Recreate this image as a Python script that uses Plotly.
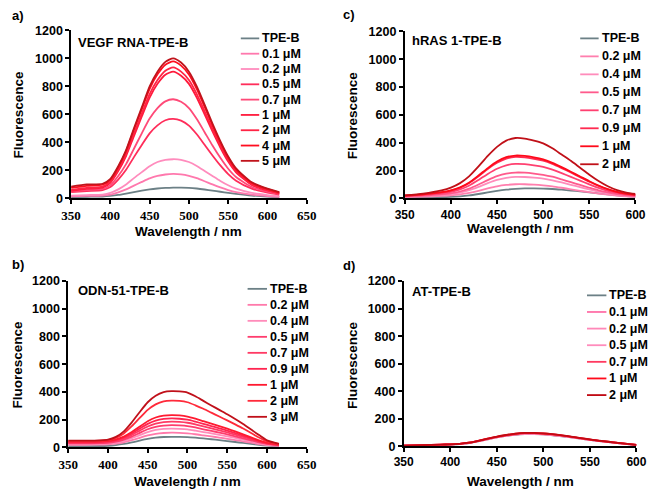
import plotly.graph_objects as go

W, H = 661, 498

# ---------------- DATA ----------------
# Panel a) VEGF RNA-TPE-B
WL_A = [350, 370, 390, 400, 410, 420, 430, 440, 450, 460, 470, 480, 490, 500, 510, 520, 530, 540, 550, 560, 580, 600, 615]
NAMES_A = ["TPE-B", "0.1 μM", "0.2 μM", "0.5 μM", "0.7 μM", "1 μM", "2 μM", "4 μM", "5 μM"]
A_TPEB = [10, 12, 14, 18, 25, 35, 46, 56, 65, 71, 75, 77, 78, 76, 71, 64, 56, 48, 40, 33, 21, 13, 9]
A_01 = [15, 18, 21, 28, 44, 65, 92, 118, 143, 161, 171, 175, 172, 162, 145, 123, 100, 79, 60, 45, 27, 17, 12]
A_02 = [20, 24, 28, 40, 65, 100, 145, 188, 230, 260, 275, 280, 276, 260, 232, 196, 160, 125, 94, 70, 40, 24, 16]
A_05 = [45, 53, 60, 82, 135, 205, 295, 382, 465, 522, 558, 568, 556, 520, 458, 383, 307, 236, 174, 127, 70, 42, 28]
A_07 = [50, 60, 68, 95, 160, 245, 355, 465, 570, 645, 693, 708, 690, 645, 567, 473, 378, 290, 212, 153, 82, 48, 32]
A_1 = [55, 68, 78, 112, 195, 303, 445, 585, 720, 818, 883, 905, 876, 818, 720, 600, 478, 364, 263, 187, 97, 57, 36]
A_2 = [62, 75, 85, 120, 205, 315, 462, 605, 745, 845, 912, 935, 905, 845, 745, 622, 495, 378, 274, 195, 102, 60, 38]
A_4 = [75, 90, 98, 132, 222, 337, 490, 637, 783, 886, 955, 978, 948, 884, 780, 653, 520, 398, 290, 207, 110, 66, 42]
A_5 = [85, 100, 105, 140, 230, 345, 500, 650, 800, 905, 975, 1000, 970, 905, 800, 670, 535, 410, 300, 215, 115, 70, 45]
COLORS_A = ["#6c8086", "#ff78ad", "#ff8cbd", "#ff2d5a", "#ff4a78", "#ff1a3c", "#ff2444", "#ff0d1f", "#c0141c"]

# Panel b) ODN-51-TPE-B
WL_B = [350, 370, 390, 400, 410, 420, 430, 440, 450, 460, 470, 480, 490, 500, 510, 520, 530, 540, 550, 560, 570, 580, 590, 600, 615]
NAMES_B = ["TPE-B", "0.2 μM", "0.4 μM", "0.5 μM", "0.7 μM", "0.9 μM", "1 μM", "2 μM", "3 μM"]
B_TPEB = [8, 8, 9, 11, 16, 24, 35, 48, 60, 69, 74, 75, 75, 73, 69, 64, 58, 52, 45, 38, 31, 24, 17, 12, 8]
B_02 = [18, 18, 19, 21, 26, 36, 51, 68, 85, 97, 103, 105, 104, 100, 94, 86, 78, 70, 61, 52, 43, 33, 23, 16, 10]
B_04 = [24, 24, 25, 27, 34, 46, 65, 88, 110, 125, 133, 135, 133, 129, 120, 110, 100, 89, 78, 67, 55, 42, 30, 20, 12]
B_05 = [28, 28, 30, 32, 40, 55, 77, 104, 130, 148, 157, 160, 158, 153, 143, 130, 118, 106, 93, 79, 65, 50, 35, 24, 14]
B_07 = [32, 32, 34, 37, 46, 63, 89, 120, 150, 171, 182, 185, 183, 177, 165, 150, 136, 122, 107, 91, 75, 57, 40, 27, 16]
B_09 = [36, 36, 38, 42, 52, 71, 100, 135, 169, 193, 205, 208, 206, 199, 185, 169, 153, 137, 120, 102, 84, 64, 45, 30, 18]
B_1 = [40, 40, 42, 46, 57, 78, 110, 150, 188, 215, 229, 232, 230, 222, 206, 188, 170, 152, 134, 114, 93, 71, 50, 33, 20]
B_2 = [45, 45, 47, 52, 68, 100, 152, 212, 270, 310, 332, 337, 335, 325, 303, 278, 250, 222, 194, 165, 135, 103, 70, 42, 24]
B_3 = [48, 48, 50, 55, 75, 115, 180, 255, 325, 372, 398, 405, 403, 395, 368, 335, 302, 270, 238, 204, 168, 128, 88, 50, 25]
COLORS_B = ["#6c8086", "#ff7aab", "#ff8cba", "#ff3d6e", "#ff3a64", "#ff2550", "#ff1a30", "#ff2a3a", "#c0101a"]

# Panel c) hRAS 1-TPE-B
WL_C = [350, 370, 390, 400, 410, 420, 430, 440, 450, 460, 470, 480, 490, 500, 510, 520, 530, 540, 550, 560, 570, 580, 590, 600]
NAMES_C = ["TPE-B", "0.2 μM", "0.4 μM", "0.5 μM", "0.7 μM", "0.9 μM", "1 μM", "2 μM"]
C_TPEB = [5, 7, 9, 11, 15, 22, 32, 43, 54, 63, 69, 72, 72, 71, 68, 63, 57, 51, 44, 37, 30, 23, 17, 12]
C_02 = [10, 14, 18, 22, 29, 40, 55, 72, 87, 97, 102, 102, 99, 94, 87, 77, 66, 55, 45, 35, 27, 20, 15, 12]
C_04 = [13, 18, 25, 31, 42, 59, 83, 110, 133, 148, 155, 154, 149, 142, 130, 115, 98, 81, 65, 49, 37, 27, 20, 15]
C_05 = [15, 21, 30, 37, 50, 71, 100, 132, 160, 178, 186, 185, 179, 170, 156, 137, 117, 97, 77, 58, 43, 31, 23, 18]
C_07 = [18, 26, 37, 48, 65, 93, 133, 176, 213, 238, 248, 246, 238, 226, 207, 182, 155, 128, 101, 76, 55, 40, 29, 22]
C_09 = [20, 29, 43, 56, 77, 111, 159, 211, 256, 286, 298, 295, 285, 271, 248, 218, 186, 153, 120, 90, 65, 46, 33, 25]
C_1 = [20, 30, 45, 58, 80, 115, 165, 218, 265, 296, 308, 305, 295, 280, 256, 225, 192, 158, 124, 93, 67, 47, 34, 26]
C_2 = [22, 35, 58, 78, 110, 160, 230, 305, 370, 415, 434, 430, 415, 395, 360, 315, 270, 220, 170, 125, 88, 60, 42, 32]
COLORS_C = ["#6c8086", "#ff7fae", "#ff8cbb", "#ff5a8c", "#ff4070", "#ff2a50", "#ff0a1a", "#c01018"]

# Panel d) AT-TPE-B
WL_D = [350, 370, 390, 400, 410, 420, 430, 440, 450, 460, 470, 480, 490, 500, 510, 520, 530, 540, 550, 560, 570, 580, 590, 600]
NAMES_D = ["TPE-B", "0.1 μM", "0.2 μM", "0.5 μM", "0.7 μM", "1 μM", "2 μM"]
D_TPEB = [4, 7, 11, 13, 16, 24, 36, 50, 64, 75, 84, 88, 88, 86, 80, 73, 64, 55, 46, 38, 30, 23, 16, 9]
D_01 = [5, 7, 11, 13, 17, 24, 37, 51, 65, 76, 85, 90, 90, 87, 81, 74, 65, 56, 46, 38, 31, 23, 16, 9]
D_02 = [5, 8, 11, 14, 17, 25, 38, 52, 66, 77, 86, 91, 91, 88, 82, 75, 66, 56, 47, 39, 31, 24, 16, 10]
D_05 = [5, 8, 12, 14, 17, 25, 38, 53, 67, 79, 88, 93, 93, 90, 84, 76, 67, 57, 48, 39, 32, 24, 16, 10]
D_07 = [5, 8, 12, 14, 18, 26, 39, 54, 68, 80, 89, 95, 95, 92, 86, 78, 68, 58, 49, 40, 32, 24, 17, 10]
D_1 = [5, 8, 12, 14, 18, 26, 40, 55, 69, 81, 91, 96, 96, 93, 87, 79, 69, 59, 49, 40, 33, 25, 17, 10]
D_2 = [5, 8, 12, 14, 18, 26, 40, 55, 70, 82, 92, 97, 97, 94, 88, 80, 70, 60, 50, 41, 33, 25, 17, 10]
COLORS_D = ["#6c8086", "#ff70a8", "#ff88b8", "#ff8cbc", "#ff3a60", "#ff0a1a", "#c00a14"]

Y_TICKS = [0, 200, 400, 600, 800, 1000, 1200]
X_TICKS_AB = [350, 400, 450, 500, 550, 600, 650]
X_TICKS_CD = [350, 400, 450, 500, 550, 600]

# ---------------- FIGURE ----------------
def px(x):
    return x / W

def py(y):
    return 1 - y / H

SANS = "Liberation Sans, Arial, sans-serif"
SERIF = "Liberation Serif, Times New Roman, serif"

panels = [
    ("", WL_A, [A_TPEB, A_01, A_02, A_05, A_07, A_1, A_2, A_4, A_5], NAMES_A, COLORS_A,
     (63, 306), (24, 197), [350, 650], X_TICKS_AB, SERIF),
    ("2", WL_C, [C_TPEB, C_02, C_04, C_05, C_07, C_09, C_1, C_2], NAMES_C, COLORS_C,
     (407, 645), (25, 197), [350, 600], X_TICKS_CD, SANS),
    ("3", WL_B, [B_TPEB, B_02, B_04, B_05, B_07, B_09, B_1, B_2, B_3], NAMES_B, COLORS_B,
     (60, 306), (282, 453), [350, 650], X_TICKS_AB, SERIF),
    ("4", WL_D, [D_TPEB, D_01, D_02, D_05, D_07, D_1, D_2], NAMES_D, COLORS_D,
     (406, 646), (282, 452), [350, 600], X_TICKS_CD, SANS),
]

fig = go.Figure()
layout = dict(
    width=W, height=H, margin=dict(l=0, r=0, t=0, b=0),
    paper_bgcolor="white", plot_bgcolor="white", showlegend=False,
    font=dict(family=SANS, color="black"),
)

for key, wl, series, names, colors, xd, yd, xr, xt, xfont in panels:
    for s, n, c in zip(series, names, colors):
        fig.add_trace(go.Scatter(
            x=wl, y=s, name=n, mode="lines", line=dict(color=c, width=1.8, shape="spline", smoothing=0.6),
            xaxis="x" + key, yaxis="y" + key, showlegend=False, hoverinfo="x+y+name",
        ))
    layout["xaxis" + key] = dict(
        domain=[px(xd[0]), px(xd[1])], anchor="y" + key, range=xr, tickvals=xt,
        showline=True, linecolor="black", linewidth=1.5, ticks="outside", ticklen=4,
        tickwidth=1.5, tickcolor="black", showgrid=False, zeroline=False,
        ticklabeloverflow="allow",
        tickfont=dict(family=xfont, size=13 if xfont == SERIF else 12, weight="bold", color="black"),
    )
    layout["yaxis" + key] = dict(
        domain=[py(yd[1]), py(yd[0])], anchor="x" + key, range=[0, 1200], tickvals=Y_TICKS,
        showline=True, linecolor="black", linewidth=1.5, ticks="outside", ticklen=4,
        tickwidth=1.5, tickcolor="black", showgrid=False, zeroline=False,
        ticklabeloverflow="allow",
        tickfont=dict(family=SANS, size=12.5, weight="bold", color="black"),
    )

annotations = []
shapes = []

def label(text, x, y, size=13, xanchor="left", angle=0):
    annotations.append(dict(
        text=text, x=px(x), y=py(y), xref="paper", yref="paper", showarrow=False,
        xanchor=xanchor, yanchor="middle", textangle=angle,
        font=dict(family=SANS, size=size, weight="bold", color="black"),
    ))

# panel letters
label("a)", 0, 9)
label("c)", 341, 8)
label("b)", 0, 265)
label("d)", 341, 266)
# panel titles
label("VEGF RNA-TPE-B", 68, 37)
label("hRAS 1-TPE-B", 412, 34)
label("ODN-51-TPE-B", 68, 292)
label("AT-TPE-B", 412, 293)
# axis titles
label("Wavelength / nm", 184, 231, size=13.5, xanchor="center")
label("Wavelength / nm", 526, 228, size=13.5, xanchor="center")
label("Wavelength / nm", 183, 488, size=13.5, xanchor="center")
label("Wavelength / nm", 526, 488, size=13.5, xanchor="center")
label("Fluorescence", 9, 111, size=13.5, xanchor="center", angle=-90)
label("Fluorescence", 354, 111, size=13.5, xanchor="center", angle=-90)
label("Fluorescence", 8, 368, size=13.5, xanchor="center", angle=-90)
label("Fluorescence", 353, 368, size=13.5, xanchor="center", angle=-90)

# legends (line sample + text)
legends = [
    (NAMES_A, COLORS_A, 238, 257, 32.3, 15.75),
    (NAMES_C, COLORS_C, 588, 607, 32.3, 18.5),
    (NAMES_B, COLORS_B, 245, 265, 290, 16.46),
    (NAMES_D, COLORS_D, 595, 615, 296.7, 17.1),
]
for names, colors, x0, x1, y0, dy in legends:
    for i, (n, c) in enumerate(zip(names, colors)):
        yy = y0 + i * dy
        shapes.append(dict(type="line", xref="paper", yref="paper", x0=px(x0), x1=px(x1),
                           y0=py(yy), y1=py(yy), line=dict(color=c, width=1.8)))
        label(n, x1 + 1, yy, size=12.5)

layout["annotations"] = annotations
layout["shapes"] = shapes
fig.update_layout(**layout)
fig.write_html("out.html", config={"displayModeBar": False},
               post_script="document.body.style.margin='0';")
